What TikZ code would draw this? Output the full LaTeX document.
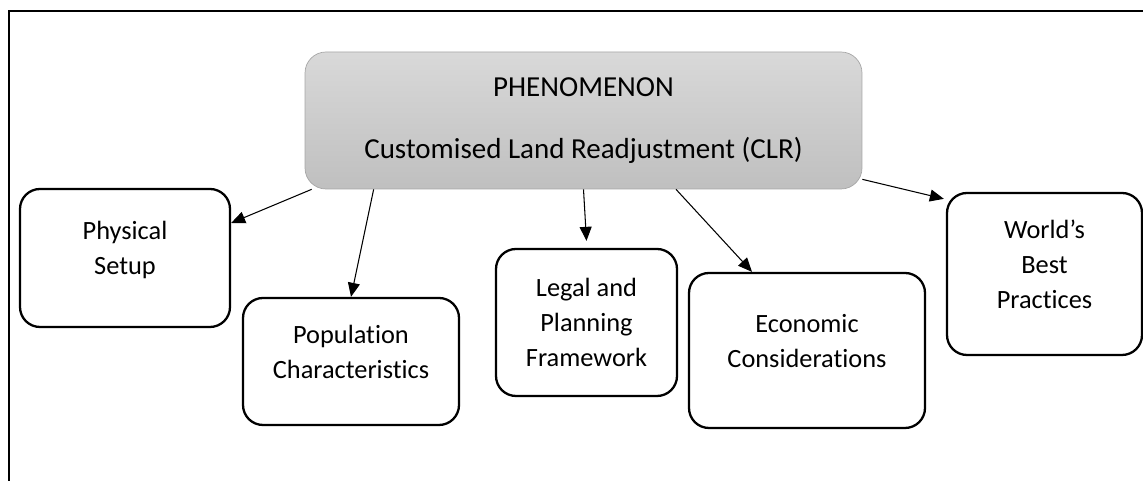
\documentclass[tikz,border=0pt]{standalone}
\usepackage{fontspec}
\setmainfont[Ligatures=NoCommon]{Carlito}
\usepackage{tikz}
\usetikzlibrary{positioning}
\usetikzlibrary{arrows.meta}
\newcommand{\tailgap}{\\[-0.3cm]\mbox{}}
\tikzset{
    factor/.style={draw, line width=1.3pt, rounded corners=0.4cm, align=center,
		inner sep=0pt, font=\fontsize{15}{19.9}\selectfont}
}
\tikzset{
    phenomenon/.style={draw=gray!70, thin, rounded corners=0.42cm, top color=gray!30, bottom color=gray!50,
		align=center, font=\fontsize{16.5}{35.3}\selectfont, minimum width=11.14cm, minimum height=2.74cm}
}
\tikzset{
    link/.style={line width=0.6pt, -{Triangle[length=0.28cm,width=0.24cm]}}
}
\begin{document}
\begin{tikzpicture}
			\useasboundingbox (0,0) rectangle (22.86,9.62);
			\draw[line width=1.6pt] (22.86,9.40) -- (0.18,9.40) -- (0.18,0);
			\node[phenomenon] (clr) at (11.67,7.21) {PHENOMENON\\Customised Land Readjustment (CLR)};
			\node[factor, minimum width=4.20cm, minimum height=2.76cm] (physical) at (2.50,4.46) {Physical\\Setup\tailgap};
			\node[factor, minimum width=4.32cm, minimum height=2.54cm] (population) at (7.02,2.39) {Population\\Characteristics\tailgap};
			\node[factor, minimum width=3.62cm, minimum height=2.94cm] (legal) at (11.73,3.17) {Legal and\\Planning\\Framework};
			\node[factor, minimum width=4.72cm, minimum height=3.10cm] (economic) at (16.14,2.61) {Economic\\Considerations\tailgap};
			\node[factor, minimum width=3.90cm, minimum height=3.24cm] (world) at (20.89,4.14) {World’s\\Best\\Practices\tailgap};
			\draw[link] ([xshift=0.14cm]clr.south west) -- ([yshift=0.7cm]physical.east);
			\draw[link] ([xshift=1.38cm]clr.south west) -- (population.north);
			\draw[link] (clr.south) -- ([yshift=0.14cm]legal.north);
			\draw[link] ([xshift=1.85cm]clr.south) -- ([xshift=-1.1cm]economic.north);
			\draw[link] ([yshift=0.2cm]clr.south east) -- ([xshift=-0.04cm,yshift=-0.14cm]world.north west);
	\end{tikzpicture}
\end{document}
